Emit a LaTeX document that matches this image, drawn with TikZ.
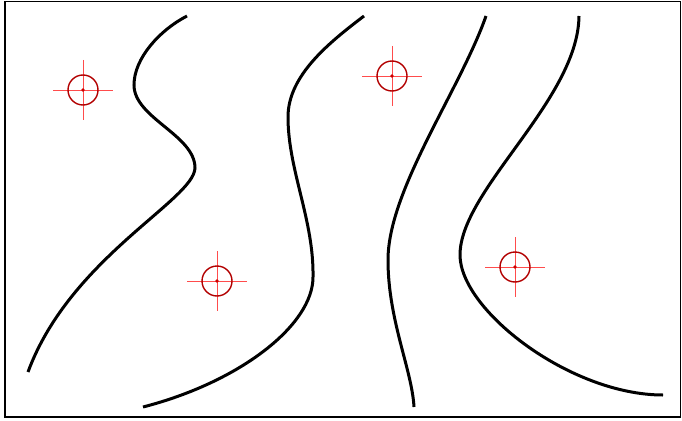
\documentclass[tikz,border=0pt]{standalone}
\begin{document}
\begin{tikzpicture}[x=1pt,y=-1pt,
  contour/.style={line width=3pt},
  frame/.style={line width=1.8pt},
  xhair/.pic={
    \draw[red!70!white,line width=1pt] (-30,0) -- (30,0) (0,-30) -- (0,30);
    \draw[red!70!black,line width=1.4pt] (0,0) circle[radius=15];
    \fill[red!80!black] (0,0) circle[radius=1.8];
  }]
\useasboundingbox (0,0) rectangle (682,420);
\draw[frame] (5,1.5) rectangle (680.5,417);
% contour lines
\draw[contour] (187,16) .. controls (160,30) and (134,58) .. (134,85)
  .. controls (134,118) and (195,135) .. (195,168)
  .. controls (194,200) and (70,258) .. (28,372);
\draw[contour] (364,16) .. controls (330,42) and (288,75) .. (288,117)
  .. controls (288,170) and (314,220) .. (313,277)
  .. controls (313,325) and (240,382) .. (143,407);
\draw[contour] (486,16) .. controls (460,90) and (388,190) .. (388,260)
  .. controls (388,320) and (412,370) .. (414,407);
\draw[contour] (579,16) .. controls (578,100) and (460,190) .. (460,255)
  .. controls (460,310) and (570,395) .. (663,395);
% crosshairs
\pic at (83,90) {xhair};
\pic at (217,281) {xhair};
\pic at (392,76) {xhair};
\pic at (515,267) {xhair};
\end{tikzpicture}
\end{document}
